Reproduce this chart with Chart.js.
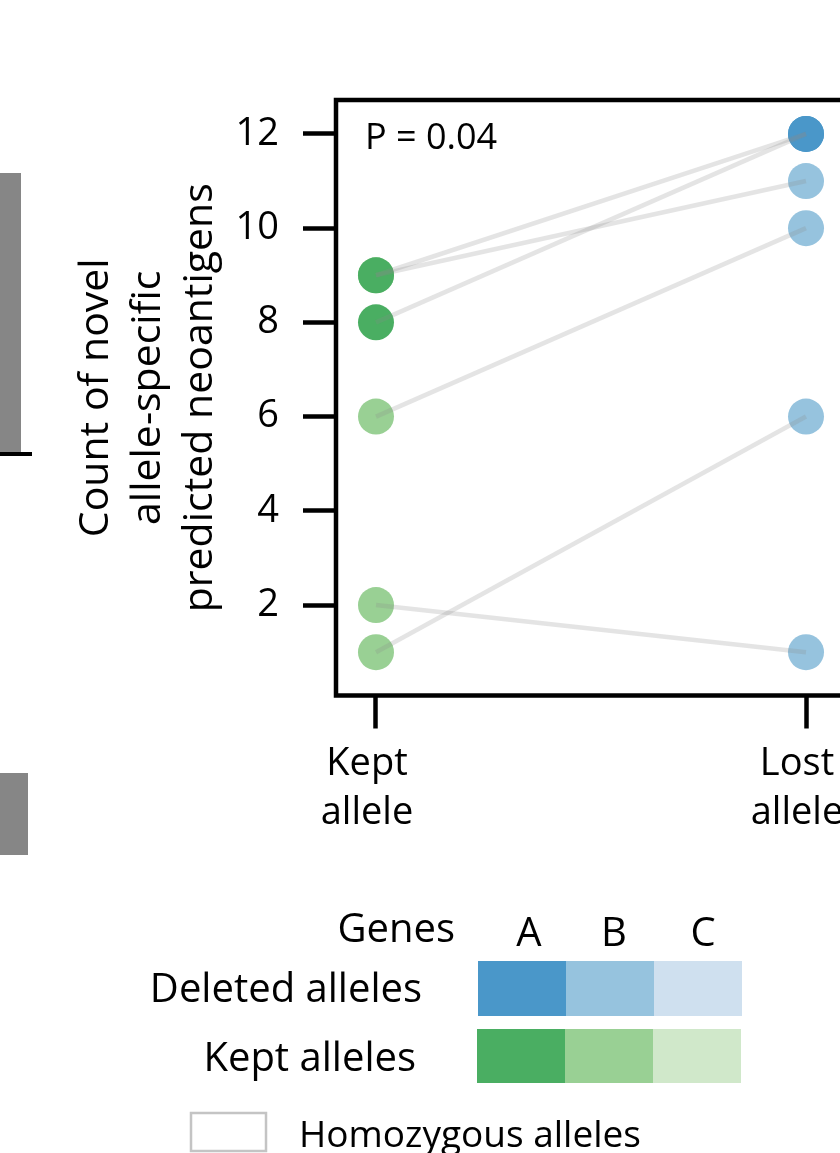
<!DOCTYPE html>
<html>
<head>
<meta charset="utf-8">
<script src="https://cdn.jsdelivr.net/npm/chart.js@4.4.1/dist/chart.umd.min.js"></script>
<style>
    html, body { margin: 0; padding: 0; background: #fff; overflow: hidden; }
    #wrapper { position: relative; width: 840px; height: 1153px; overflow: hidden; }
    #grafico { position: absolute; left: 0; top: 0; }
    .pezzo { position: absolute; background: #868686; }
</style>
</head>
<body>
<div id="wrapper">
    <!-- pezzi del pannello accanto, tagliati -->
    <div class="pezzo" style="left:0;top:173px;width:21px;height:280px"></div>
    <div class="pezzo" style="left:0;top:452px;width:32px;height:4px;background:#000"></div>
    <div class="pezzo" style="left:0;top:773px;width:28px;height:82px"></div>
    <canvas id="grafico" width="880" height="1153"></canvas>
</div>
<script>
"use strict"
const FONT = "'Open Sans', 'Noto Sans', sans-serif";

// --- dati ---
const etichetteX = [["Kept", "allele"], ["Lost", "allele"]];
const posizioniX = [0, 1];
const geni = ["A", "A", "B", "B", "B", "B"];
const conteggiKept = [9, 8, 9, 6, 1, 2];
const conteggiLost = [12, 12, 11, 10, 6, 1];
const tickY = [2, 4, 6, 8, 10, 12];
const titoloY = ["Count of novel", "allele-specific", "predicted neoantigens"];
const testoP = "P = 0.04";

// legenda
const nomiGeni = ["A", "B", "C"];
const coloriLost = ["#4a97c9", "#96c3de", "#cfe0ef"];
const coloriKept = ["#4aae62", "#99d094", "#d0e8ca"];

function coloreGene(g, lista) {
    return lista[nomiGeni.indexOf(g)];
}

let datasets = [];

// linee grigie fra le coppie, sopra i punti
for (let i = 0; i < geni.length; i++) {
    datasets.push({
        data: [{ x: posizioniX[0], y: conteggiKept[i] }, { x: posizioniX[1], y: conteggiLost[i] }],
        showLine: true,
        borderColor: "rgba(140,140,140,0.23)",
        borderWidth: 4.5,
        pointRadius: 0,
        order: 0
    });
}

// punti, un dataset per gene (A sopra B)
nomiGeni.forEach((g, k) => {
    let punti = [];
    let colori = [];
    for (let i = 0; i < geni.length; i++) {
        if (geni[i] !== g) continue;
        punti.push({ x: posizioniX[0], y: conteggiKept[i] });
        colori.push(coloreGene(g, coloriKept));
        punti.push({ x: posizioniX[1], y: conteggiLost[i] });
        colori.push(coloreGene(g, coloriLost));
    }
    if (punti.length === 0) return;
    datasets.push({
        data: punti,
        showLine: false,
        pointRadius: 18,
        pointHoverRadius: 18,
        pointBorderWidth: 0,
        pointBackgroundColor: colori,
        order: k + 1
    });
});

// cornice, P-value e legenda disegnati sul canvas
const extra = {
    id: "extra",
    beforeDatasetsDraw(chart) {
        const ctx = chart.ctx;
        const a = chart.chartArea;
        ctx.save();
        ctx.lineWidth = 4.5;
        ctx.strokeStyle = "#000";
        ctx.strokeRect(a.left, a.top, a.right - a.left, a.bottom - a.top);
        ctx.fillStyle = "#000";
        ctx.font = "36px " + FONT;
        ctx.textAlign = "left";
        ctx.textBaseline = "alphabetic";
        ctx.fillText(testoP, a.left + 29, a.top + 49);
        ctx.restore();
    },
    afterDraw(chart) {
        const ctx = chart.ctx;
        ctx.save();
        ctx.fillStyle = "#000";
        ctx.font = "40px " + FONT;
        ctx.textBaseline = "alphabetic";
        ctx.textAlign = "right";
        ctx.fillText("Genes", 455, 942);
        ctx.fillText("Deleted alleles", 422, 1002);
        ctx.fillText("Kept alleles", 416, 1071);
        ctx.textAlign = "center";
        const centri = [529, 614, 703];
        nomiGeni.forEach((g, k) => {
            ctx.fillText(g, centri[k], 946);
            ctx.fillStyle = coloriLost[k];
            ctx.fillRect(478 + k * 88, 961, 88, 55);
            ctx.fillStyle = coloriKept[k];
            ctx.fillRect(477 + k * 88, 1029, 88, 54);
            ctx.fillStyle = "#000";
        });
        ctx.strokeStyle = "#c4c4c4";
        ctx.lineWidth = 2.5;
        ctx.strokeRect(191, 1113, 75, 38);
        ctx.textAlign = "left";
        ctx.font = "37px " + FONT;
        ctx.fillText("Homozygous alleles", 299, 1147);
        ctx.restore();
    }
};

let grafico = new Chart(document.getElementById("grafico"), {
    type: "scatter",
    data: { datasets: datasets },
    options: {
        responsive: false,
        animation: false,
        events: [],
        layout: { padding: { left: 60, top: 100, right: 34, bottom: 317.5 } },
        plugins: { legend: { display: false }, tooltip: { enabled: false } },
        scales: {
            x: {
                type: "linear",
                min: -0.093,
                max: 1.093,
                afterBuildTicks: s => { s.ticks = posizioniX.map(v => ({ value: v })); },
                afterFit: s => { s.height = 140; },
                ticks: {
                    callback: (v, i) => etichetteX[i],
                    font: { family: FONT, size: 38, lineHeight: 1.3 },
                    color: "#000",
                    padding: 11,
                    labelOffset: -9,
                    maxRotation: 0,
                    autoSkip: false
                },
                grid: { display: true, drawOnChartArea: false, drawTicks: true, tickLength: 33, tickWidth: 4.5, tickColor: "#000" },
                border: { display: false }
            },
            y: {
                type: "linear",
                min: 0.08,
                max: 12.72,
                afterBuildTicks: s => { s.ticks = tickY.map(v => ({ value: v })); },
                afterFit: s => { s.width = 336 - 60; },
                ticks: {
                    font: { family: FONT, size: 38 },
                    color: "#000",
                    padding: 24
                },
                grid: { display: true, drawOnChartArea: false, drawTicks: true, tickLength: 33, tickWidth: 4.5, tickColor: "#000" },
                border: { display: false },
                title: {
                    display: true,
                    text: titoloY,
                    font: { family: FONT, size: 41, lineHeight: 1.27 },
                    color: "#000",
                    padding: { top: 10, bottom: 0 }
                }
            }
        }
    },
    plugins: [extra]
});
</script>
</body>
</html>
